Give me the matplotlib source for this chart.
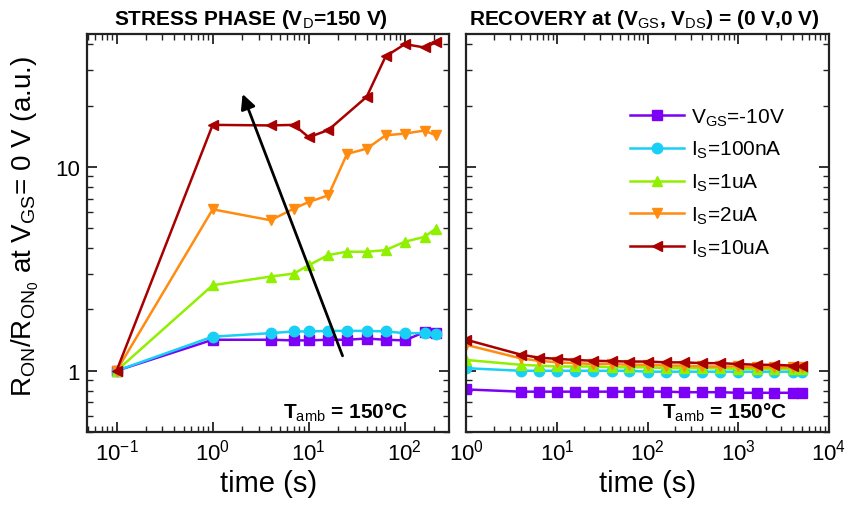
import matplotlib
matplotlib.use('Agg')
import matplotlib.pyplot as plt
from matplotlib.ticker import LogLocator, NullFormatter, FixedLocator, FixedFormatter

plt.rcParams['font.family'] = ['Liberation Sans', 'DejaVu Sans']
plt.rcParams['mathtext.fontset'] = 'custom'
plt.rcParams['mathtext.rm'] = 'Liberation Sans'
plt.rcParams['mathtext.it'] = 'Liberation Sans:italic'
plt.rcParams['mathtext.bf'] = 'Liberation Sans:bold'

#--------------------------------------
# Stress phase data (time in s, R_ON/R_ON0)
#--------------------------------------
t_stress = [0.1, 1, 4, 7, 10, 16, 25, 40, 63, 100, 160, 210]
t_stress_red = [0.1, 1, 4, 7, 10, 16, 40, 63, 100, 160, 210]
s_vgs = [1.0, 1.42, 1.42, 1.41, 1.41, 1.42, 1.42, 1.44, 1.42, 1.41, 1.55, 1.54]
s_100n = [1.0, 1.47, 1.53, 1.56, 1.56, 1.57, 1.57, 1.57, 1.56, 1.53, 1.53, 1.51]
s_1u = [1.0, 2.63, 2.9, 3.0, 3.3, 3.7, 3.84, 3.84, 3.91, 4.3, 4.54, 4.99]
s_2u = [1.0, 6.2, 5.48, 6.25, 6.74, 7.26, 11.6, 12.3, 14.3, 14.6, 15.1, 14.3]
s_10u = [1.0, 16.1, 16.0, 16.1, 14.0, 15.2, 22.1, 34.9, 40.1, 38.6, 40.9]

#--------------------------------------
# Recovery data
#--------------------------------------
t_rec = [1, 4, 6.3, 10, 16, 25, 40, 63, 100, 160, 250, 400, 630, 1000,
         1600, 2500, 4000, 5000]
r_vgs = [0.81, 0.79, 0.79, 0.79, 0.79, 0.79, 0.79, 0.79, 0.79, 0.79,
         0.785, 0.785, 0.785, 0.78, 0.78, 0.78, 0.78, 0.78]
r_100n = [1.03, 1.0, 1.0, 1.0, 1.0, 1.0, 1.0, 1.0, 0.99, 0.99, 0.99,
          0.99, 0.99, 0.99, 0.99, 0.99, 0.99, 0.99]
r_1u = [1.13, 1.07, 1.06, 1.05, 1.05, 1.05, 1.04, 1.04, 1.04, 1.03,
        1.03, 1.03, 1.03, 1.02, 1.02, 1.02, 1.02, 1.02]
r_2u = [1.34, 1.15, 1.12, 1.10, 1.09, 1.08, 1.08, 1.07, 1.07, 1.06,
        1.06, 1.05, 1.05, 1.05, 1.04, 1.04, 1.04, 1.04]
r_10u = [1.42, 1.20, 1.16, 1.145, 1.13, 1.12, 1.115, 1.11, 1.11, 1.10,
         1.10, 1.09, 1.09, 1.08, 1.07, 1.07, 1.06, 1.05]

labels = ['V$_{\\rm GS}$=-10V', 'I$_{\\rm S}$=100nA', 'I$_{\\rm S}$=1uA',
          'I$_{\\rm S}$=2uA', 'I$_{\\rm S}$=10uA']
colors = ['#7b00f5', '#18d0f5', '#90f000', '#ff8c10', '#a80000']
markers = ['s', 'o', '^', 'v', '<']

fig = plt.figure(figsize=(8.51, 5.06), dpi=100)
ax1 = fig.add_axes([0.102, 0.144, 0.426, 0.787])
ax2 = fig.add_axes([0.548, 0.144, 0.426, 0.787])

stress = [(t_stress, s_vgs), (t_stress, s_100n), (t_stress, s_1u),
          (t_stress, s_2u), (t_stress_red, s_10u)]
recov = [r_vgs, r_100n, r_1u, r_2u, r_10u]

for i in range(5):
    ax1.plot(stress[i][0], stress[i][1], color=colors[i], marker=markers[i],
             ms=7.5, lw=1.8, label=labels[i])
    ax2.plot(t_rec, recov[i], color=colors[i], marker=markers[i],
             ms=7.5, lw=1.8, label=labels[i])

for ax in (ax1, ax2):
    ax.set_xscale('log')
    ax.set_yscale('log')
    ax.set_ylim(0.5, 45)
    ax.yaxis.set_major_locator(FixedLocator([1, 10]))
    ax.yaxis.set_major_formatter(FixedFormatter(['1', '10']))
    ax.yaxis.set_minor_locator(LogLocator(base=10, subs=range(2, 10)))
    ax.yaxis.set_minor_formatter(NullFormatter())
    ax.xaxis.set_minor_locator(LogLocator(base=10, subs=range(2, 10), numticks=20))
    ax.xaxis.set_minor_formatter(NullFormatter())
    ax.tick_params(which='both', direction='in', top=True, right=True,
                   labelsize=16, color='#222222')
    ax.tick_params(which='major', length=7, width=1.3, pad=5)
    ax.tick_params(which='minor', length=4, width=1.0)
    for s in ax.spines.values():
        s.set_linewidth(1.6)
        s.set_color('#222222')
    ax.set_xlabel('time (s)', fontsize=21, labelpad=3)

ax1.set_xlim(0.049, 290)
ax1.xaxis.set_major_locator(LogLocator(base=10, numticks=20))
ax2.set_xlim(1, 1e4)
ax2.xaxis.set_major_locator(LogLocator(base=10, numticks=20))
ax2.tick_params(labelleft=False)

# arrow showing increasing stress current
ax1.annotate('', xy=(2.0, 23.5), xytext=(23, 1.15),
             arrowprops=dict(arrowstyle='-|>', color='black', lw=2,
                             mutation_scale=22))

ax1.text(0.54, 0.05, 'T$_{\\rm amb}$ = 150°C', transform=ax1.transAxes,
         fontsize=15, fontweight='bold', ha='left', va='center')
ax2.text(0.54, 0.05, 'T$_{\\rm amb}$ = 150°C', transform=ax2.transAxes,
         fontsize=15, fontweight='bold', ha='left', va='center')

ax2.legend(loc='upper left', bbox_to_anchor=(0.40, 0.865), frameon=False,
           fontsize=15, handlelength=2.6, labelspacing=0.55, handletextpad=0.3)

fig.text(0.295, 0.962, 'STRESS PHASE (V$_{\\rm D}$=150 V)', fontsize=15,
         fontweight='bold', ha='center', va='center')
fig.text(0.757, 0.962, 'RECOVERY at (V$_{\\rm GS}$, V$_{\\rm DS}$) = (0 V,0 V)',
         fontsize=15, fontweight='bold', ha='center', va='center')
fig.text(0.03, 0.553, 'R$_{\\rm ON}$/R$_{\\rm ON_0}$ at V$_{\\rm GS}$= 0 V (a.u.)',
         fontsize=20, rotation=90, ha='center', va='center')

fig.savefig('out.png', dpi=100)
